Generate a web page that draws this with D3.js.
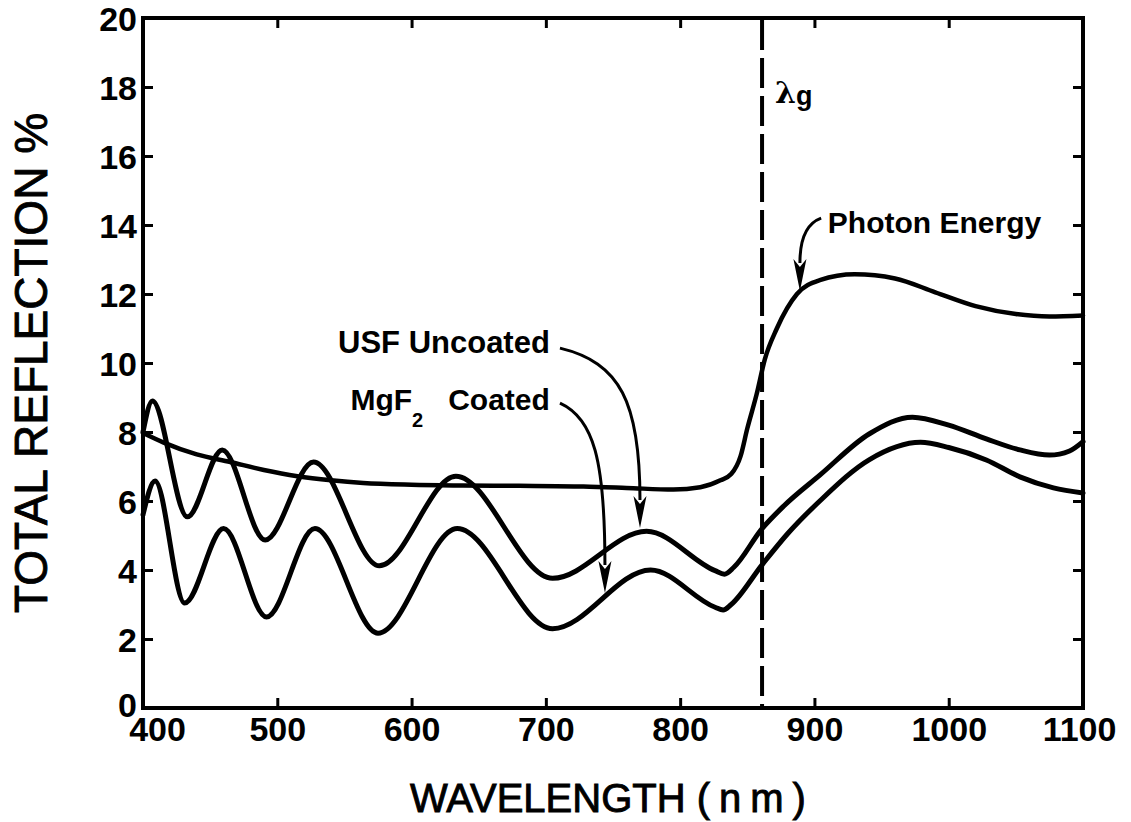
<!DOCTYPE html>
<html>
<head>
<meta charset="utf-8">
<style>
body { margin: 0; background: #fff; }
svg { display: block; }
.tick text { font: bold 34px "Liberation Sans", Arial, sans-serif; fill: #000; }
.tick line { stroke: #000; stroke-width: 3; }
.domain { display: none; }
.curve { fill: none; stroke: #000; stroke-linecap: round; stroke-linejoin: round; }
.note { font: bold 30px "Liberation Sans", Arial, sans-serif; fill: #000; }
.leader { fill: none; stroke: #000; stroke-width: 3; }
.title { fill: #000; stroke: #000; stroke-width: 0.9px; }
</style>
</head>
<body>
<script src="https://cdnjs.cloudflare.com/ajax/libs/d3/7.8.5/d3.min.js"></script>
<script>

// values (wavelength in nm, reflection in %)
var xTicks = [400, 500, 600, 700, 800, 900, 1000, 1100];
var yTicks = [0, 2, 4, 6, 8, 10, 12, 14, 16, 18, 20];

var photonWl = [400, 415, 440, 465, 490, 515, 540, 564, 600, 638, 680, 728, 760, 795, 815, 830, 838, 845, 850, 857, 863, 872, 887, 904, 930, 960, 990, 1020, 1050, 1075, 1100];
var photonR  = [7.97, 7.7, 7.35, 7.13, 6.9, 6.72, 6.6, 6.52, 6.47, 6.45, 6.44, 6.42, 6.38, 6.33, 6.4, 6.6, 6.78, 7.3, 8.1, 9.1, 10.1, 11.0, 12.0, 12.4, 12.57, 12.45, 12.05, 11.65, 11.42, 11.35, 11.38];

var usfWl = [400, 407, 433, 459, 491, 527, 576, 633, 705, 775, 826, 833, 840, 861, 877, 904, 941, 973, 1000, 1028, 1053, 1075, 1090, 1100];
var usfR  = [8.0, 8.9, 5.54, 7.48, 4.87, 7.13, 4.12, 6.72, 3.76, 5.12, 3.98, 3.88, 4.08, 5.2, 5.85, 6.75, 7.95, 8.43, 8.2, 7.8, 7.48, 7.33, 7.45, 7.72];

var mgfWl = [400, 409, 431, 460, 492, 528, 575, 634, 705, 778, 826, 832, 838, 861, 880, 904, 941, 979, 1000, 1028, 1053, 1078, 1100];
var mgfR  = [5.6, 6.58, 3.04, 5.2, 2.64, 5.2, 2.17, 5.2, 2.3, 4.0, 2.92, 2.84, 3.0, 4.15, 5.05, 6.0, 7.2, 7.7, 7.55, 7.19, 6.7, 6.38, 6.23];

var lambdaG = 861;

// annotation anchors in data units: label, leader start, arrow tip
var noteNames  = ["Photon Energy", "USF Uncoated", "MgF2 Coated"];
var noteLabel  = [[910, 13.77], [703, 10.29], [703, 8.64]];
var noteStart  = [[905, 14.2], [710.5, 10.43], [710.5, 8.84]];
var noteTip    = [[889.2, 12.09], [770.1, 5.22], [744.0, 3.33]];

var W = 1131, H = 822;
var svg = d3.select("body").append("svg").attr("width", W).attr("height", H);

var x = d3.scaleLinear().domain([400, 1100]).range([143, 1083]);
var y = d3.scaleLinear().domain([0, 20]).range([708, 18]);

// frame
svg.append("rect")
  .attr("x", x(400)).attr("y", y(20))
  .attr("width", x(1100) - x(400)).attr("height", y(0) - y(20))
  .attr("fill", "none").attr("stroke", "#000").attr("stroke-width", 4);

var xb = svg.append("g").attr("transform", "translate(0," + y(0) + ")")
  .call(d3.axisBottom(x).tickValues(xTicks).tickSize(-10).tickSizeOuter(0).tickPadding(9).tickFormat(d3.format("d")));
// first label sits a little right of its tick, as in the print
xb.selectAll(".tick text").filter(function(d) { return d === 400; }).attr("dx", 14);
xb.selectAll(".tick text").filter(function(d) { return d === 1100; }).attr("dx", -4);

svg.append("g").attr("transform", "translate(0," + y(20) + ")")
  .call(d3.axisTop(x).tickValues(xTicks).tickSize(-10).tickSizeOuter(0).tickFormat(""));
var yl = svg.append("g").attr("transform", "translate(" + x(400) + ",0)")
  .call(d3.axisLeft(y).tickValues(yTicks).tickSize(-10).tickSizeOuter(0).tickPadding(6).tickFormat(d3.format("d")));
yl.selectAll(".tick text").attr("dy", function(d) { return d === 0 ? "0.26em" : "0.38em"; });
svg.append("g").attr("transform", "translate(" + x(1100) + ",0)")
  .call(d3.axisRight(y).tickValues(yTicks).tickSize(-10).tickSizeOuter(0).tickFormat(""));

// axis titles
svg.append("text")
  .attr("class", "title")
  .attr("transform", "translate(47," + (y(0) + y(20)) / 2 + ") rotate(-90)")
  .attr("text-anchor", "middle")
  .style("font", "46px 'Liberation Sans', Arial, sans-serif")
  .text("TOTAL REFLECTION %");

var xt = svg.append("text")
  .attr("class", "title")
  .attr("x", 410).attr("y", 812)
  .style("font", "40px 'Liberation Sans', Arial, sans-serif");
xt.append("tspan").text("WAVELENGTH ");
xt.append("tspan").attr("letter-spacing", 9).text("(nm)");

// lambda g dashed line
svg.append("line")
  .attr("x1", x(lambdaG)).attr("x2", x(lambdaG))
  .attr("y1", y(20) + 2).attr("y2", y(0))
  .attr("stroke", "#000").attr("stroke-width", 4)
  .attr("stroke-dasharray", "30 8");

var lg = svg.append("text")
  .attr("x", x(lambdaG) + 13).attr("y", y(17.54))
  .attr("class", "note");
lg.append("tspan").style("font", "bold 30px 'DejaVu Serif', serif").text("λ");
lg.append("tspan").attr("dy", 2).style("font-size", "27px").text("g");

// curves
var line = d3.line()
  .x(function(d) { return x(d[0]); })
  .y(function(d) { return y(d[1]); })
  .curve(d3.curveMonotoneX);

var series = [
  { wl: photonWl, r: photonR, w: 4.5 },
  { wl: usfWl, r: usfR, w: 5 },
  { wl: mgfWl, r: mgfR, w: 5 }
];
series.forEach(function(s) {
  svg.append("path")
    .attr("class", "curve")
    .attr("stroke-width", s.w)
    .attr("d", line(d3.zip(s.wl, s.r)));
});

// annotations
noteNames.forEach(function(name, i) {
  var sx = x(noteStart[i][0]), sy = y(noteStart[i][1]);
  var tx = x(noteTip[i][0]), ty = y(noteTip[i][1]);
  var len = 32, half = 6.5;
  var dx = tx - sx, dy = ty - sy;
  var p = d3.path();
  p.moveTo(sx, sy);
  p.bezierCurveTo(sx + dx * 0.75, sy + dy * 0.08, tx, sy + dy * 0.3, tx, ty - len + 4);
  svg.append("path").attr("class", "leader").attr("d", p.toString());
  svg.append("path")
    .attr("d", "M" + tx + "," + ty + "L" + (tx - half) + "," + (ty - len) + "L" + tx + "," + (ty - len + 8) + "L" + (tx + half) + "," + (ty - len) + "Z")
    .attr("fill", "#000");

  var lx = x(noteLabel[i][0]), ly = y(noteLabel[i][1]);
  if (i === 0) {
    svg.append("text").attr("class", "note").attr("x", lx).attr("y", ly).text(name);
  } else if (i === 1) {
    svg.append("text").attr("class", "note").attr("x", lx).attr("y", ly)
      .attr("text-anchor", "end").style("font-size", "31px").text(name);
  } else {
    var t = svg.append("text").attr("class", "note").attr("x", lx).attr("y", ly)
      .attr("text-anchor", "end");
    t.append("tspan").text("MgF");
    t.append("tspan").attr("dy", 17).style("font-size", "20px").text("2");
    t.append("tspan").attr("dy", -17).attr("dx", 25).text("Coated");
  }
});

</script>
</body>
</html>
